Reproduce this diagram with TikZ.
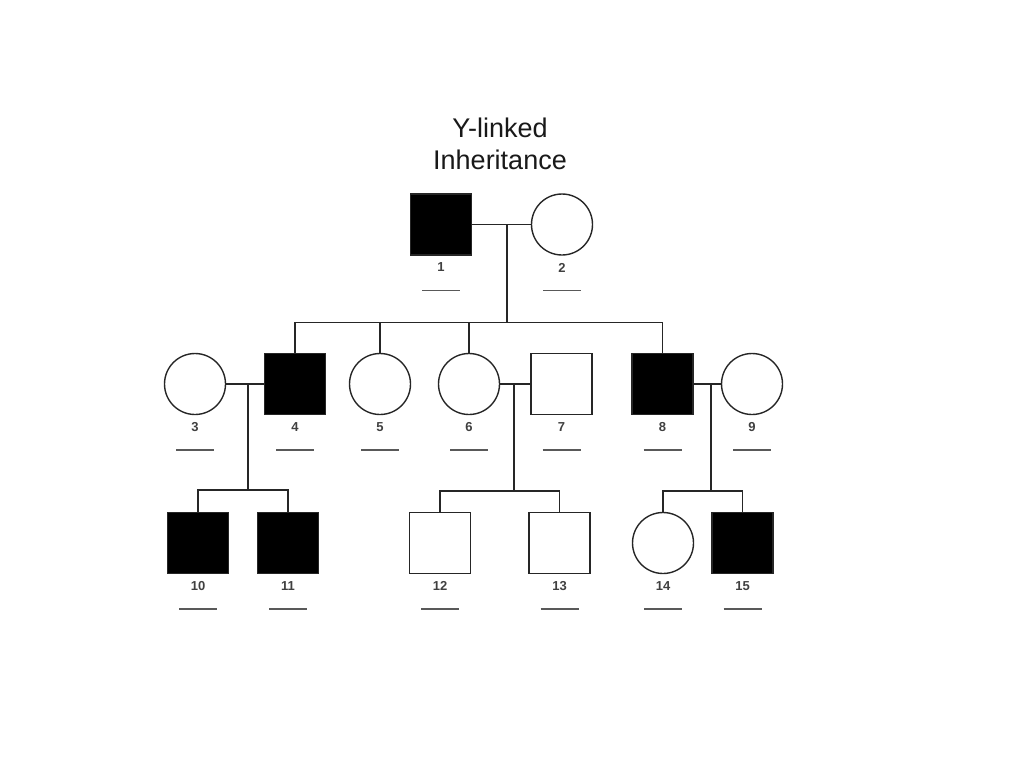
\documentclass[tikz,border=0pt]{standalone}
\usepackage{fontspec}
\setmainfont{Liberation Sans}
\begin{document}
\begin{tikzpicture}[x=1pt,y=-1pt,
  line/.style={draw=black!85, line width=1.6pt},
  uline/.style={draw=black!65, line width=1.5pt},
  male/.style={rectangle, draw=black!85, line width=1.6pt, minimum size=61pt, inner sep=0pt},
  female/.style={circle, draw=black!85, line width=1.4pt, minimum size=61pt, inner sep=0pt},
  aff/.style={fill=black},
  lab/.style={font=\fontsize{13}{15}\selectfont\bfseries, text=black!75, inner sep=0pt},
  title/.style={font=\fontsize{27}{32}\selectfont, align=center, text=black!90}
]
\newcommand\pl[2]{%
  \node[lab] (#1l) at ([yshift=-43pt]#1.center) {#2};
  \draw[uline] ([xshift=-19pt,yshift=-66pt]#1.center) -- ([xshift=19pt,yshift=-66pt]#1.center);}
\useasboundingbox (0,0) rectangle (1024,768);

\node[title] (t) at (500,144) {Y-linked\\Inheritance};

% generation I
\node[male,aff] (p1) at (441,224.5) {};
\node[female] (p2) at (562,224.5) {};
% generation II
\node[female] (p3) at (195,384) {};
\node[male,aff] (p4) at (295,384) {};
\node[female] (p5) at (380,384) {};
\node[female] (p6) at (469,384) {};
\node[male] (p7) at (561.5,384) {};
\node[male,aff] (p8) at (662.5,384) {};
\node[female] (p9) at (752,384) {};
% generation III
\node[male,aff] (p10) at (198,543) {};
\node[male,aff] (p11) at (288,543) {};
\node[male] (p12) at (440,543) {};
\node[male] (p13) at (559.5,543) {};
\node[female] (p14) at (663,543) {};
\node[male,aff] (p15) at (742.5,543) {};

\pl{p1}{1}\pl{p2}{2}\pl{p3}{3}\pl{p4}{4}\pl{p5}{5}
\pl{p6}{6}\pl{p7}{7}\pl{p8}{8}\pl{p9}{9}\pl{p10}{10}
\pl{p11}{11}\pl{p12}{12}\pl{p13}{13}\pl{p14}{14}\pl{p15}{15}

% couple and sibship coordinates
\coordinate (m12) at (507,224.5);
\coordinate (s1) at (507,322.5);
\coordinate (m34) at (248,384);
\coordinate (s34) at (248,490);
\coordinate (m67) at (514,384);
\coordinate (s67) at (514,491);
\coordinate (m89) at (711,384);
\coordinate (s89) at (711,491);

% generation I family
\draw[line] (p1.east) -- (p2.west);
\draw[line] (m12) -- (s1);
\draw[line] (p4.north) -- (p4.north |- s1) -- (p8.north |- s1) -- (p8.north);
\draw[line] (p5.north) -- (p5.north |- s1);
\draw[line] (p6.north) -- (p6.north |- s1);

% 3 x 4
\draw[line] (p3.east) -- (p4.west);
\draw[line] (m34) -- (s34);
\draw[line] (p10.north) -- (p10.north |- s34) -- (p11.north |- s34) -- (p11.north);

% 6 x 7
\draw[line] (p6.east) -- (p7.west);
\draw[line] (m67) -- (s67);
\draw[line] (p12.north) -- (p12.north |- s67) -- (p13.north |- s67) -- (p13.north);

% 8 x 9
\draw[line] (p8.east) -- (p9.west);
\draw[line] (m89) -- (s89);
\draw[line] (p14.north) -- (p14.north |- s89) -- (p15.north |- s89) -- (p15.north);
\end{tikzpicture}
\end{document}
